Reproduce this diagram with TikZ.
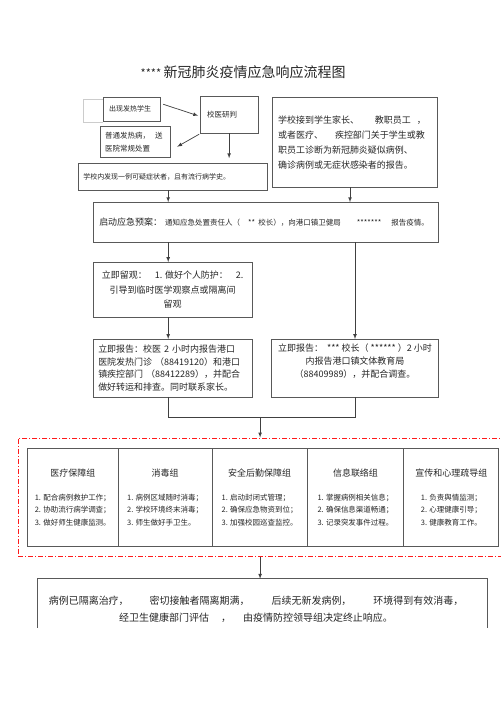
\documentclass[tikz,border=0pt]{standalone}
\usepackage{fontspec}
\setmainfont{Noto Sans CJK SC}
\usepackage{tikz}
\usetikzlibrary{positioning}
\usetikzlibrary{arrows}
\usetikzlibrary{calc}
\newcommand{\fsz}[2]{\fontsize{#1}{#2}\selectfont}
\tikzset{
  box/.style={draw=black!65, line width=0.9pt, inner sep=0pt, outer sep=0pt, text=black!85},
  grp/.style={draw=black!65, line width=1pt, inner sep=0pt, outer sep=0pt, minimum height=98},
  txt/.style={inner sep=0pt, outer sep=0pt, text=black!85},
  redframe/.style={draw=red!90, line width=0.8pt, dash pattern=on 5pt off 2pt on 1pt off 2pt, inner sep=0pt}
}

\begin{document}
\begin{tikzpicture}[x=1pt,y=-1pt,>=latex,line width=0.7pt,every path/.style={draw=black!75}]
	\useasboundingbox (0,0) rectangle (500,707);
	\fill[white] (0,0) rectangle (500,707);
	% title
	\node[txt] (title) at (243,72) {\fsz{11}{14}****\ \fsz{14}{16}新冠肺炎疫情应急响应流程图};
	% top part
	\draw[black!20,thin] (103,99) -| (83,122) -- (103,122);
	\node[box, minimum width=57, minimum height=24, text width=45, align=left, font=\fsz{7}{9}] (fever) at (131.5,109) {出现发热学生};
	\node[box, minimum width=58, minimum height=37, text width=44, align=left, font=\fsz{7.5}{9}] (judge) at (229,114.5) {校医研判};
	\node[box, minimum width=70, minimum height=31, text width=60, align=left, font=\fsz{7.5}{13}] (normal) at (135,141.5) {普通发热病，\hspace{5pt}送\\医院常规处置};
	\node[box, minimum width=189, minimum height=27, text width=179, align=left, font=\fsz{7}{9}] (suspect) at (172.5,176.5) {学校内发现一例可疑症状者，且有流行病学史。};
	\node[box, minimum width=166, minimum height=90, text width=154, align=left, font=\fsz{9}{15}] (report) at (355,142)
		{学校接到学生家长、\hspace{16pt}教职员工\hspace{6pt}，\\或者医疗、\hspace{12pt}疾控部门关于学生或教\\职员工诊断为新冠肺炎疑似病例、\\确诊病例或无症状感染者的报告。};
	% start
	\node[box, minimum width=346, minimum height=40, text width=334, align=left] (start) at (266,222)
		{{\fsz{9}{11}启动应急预案：}\hspace{3pt}{\fsz{7.5}{9}通知应急处置责任人（\hspace{8pt}** 校长），向港口镇卫健局\hspace{16pt}*******\hspace{10pt}报告疫情。}};
	\node[box, minimum width=159, minimum height=55, align=center, font=\fsz{9}{15}] (observe) at (172.5,289.5)
		{立即留观：\hspace{8pt}1. 做好个人防护：\hspace{8pt}2.\\引导到临时医学观察点或隔离间\hspace{10pt}\\留观};
	\node[box, minimum width=159, minimum height=58, text width=149, align=left, font=\fsz{9}{12.5}] (rep1) at (172.5,368)
		{立即报告：校医 2 小时内报告港口\\医院发热门诊 （88419120）和港口\\镇疾控部门 （88412289），并配合\\做好转运和排查。同时联系家长。};
	\node[box, minimum width=168, minimum height=58] (rep2) at (355,368) {};
	\node[txt, align=center, font=\fsz{9}{13}] (rep2t) at (355,361)
		{立即报告：\hspace{4pt}*** 校长（ ****** ）2 小时\\内报告港口镇文体教育局\\（88409989），并配合调查。};
	% groups
	\node[redframe, minimum width=485, minimum height=119] (frame) at (260.5,497.5) {};
	\foreach \l/\r/\ttl/\ia/\ib/\ic [count=\i] in {
		27/118/医疗保障组/配合病例救护工作；/协助流行病学调查；/做好师生健康监测。,
		118/212/消毒组/病例区域随时消毒；/学校环境终末消毒；/师生做好手卫生。,
		212/307/安全后勤保障组/启动封闭式管理；/确保应急物资到位；/加强校园巡查监控。,
		307/404/信息联络组/掌握病例相关信息；/确保信息渠道畅通；/记录突发事件过程。,
		404/499/宣传和心理疏导组/负责舆情监测；/心理健康引导；/健康教育工作。}
	{
		\node[grp, minimum width={\r-\l}] (g\i) at ({(\l+\r)/2},498) {};
		\node[txt, font=\fsz{9}{11}] (gt\i) at ({(\l+\r)/2},473) {\ttl};
		\node[txt, align=left, font=\fsz{7.5}{12.5}] (gi\i) at ({(\l+\r)/2},510) {1. \ia\\2. \ib\\3. \ic};
	}
	% end box (open at the bottom)
	\coordinate (endtop) at (260,579);
	\draw[black!65, line width=0.9pt] (37,628) |- (488,579) -- (488,628);
	\node[txt, align=center, font=\fsz{10}{17}] (stop) at (256,610)
		{病例已隔离治疗，\hspace{21pt}密切接触者隔离期满，\hspace{22pt}后续无新发病例，\hspace{22pt}环境得到有效消毒，\\经卫生健康部门评估\hspace{12pt}，\hspace{12pt}由疫情防控领导组决定终止响应。};
	% connectors
	\coordinate (join) at (260,417);
	\draw[->] ([shift={(3,-5)}]fever.east) -- ([shift={(-2,1)}]judge.west);
	\draw[->] ([shift={(-1,1)}]judge.south west) -- ([shift={(7,5)}]normal.east);
	\draw[->,shorten >=5pt] (judge.south) -- (judge.south |- suspect.north);
	\draw[->] ([xshift=-4.5pt]suspect.south) -- ([xshift=-4.5pt]suspect.south |- start.north);
	\draw[->] ([xshift=-5pt]report.south) -- ([xshift=-5pt]report.south |- start.north);
	\draw[->] ([xshift=-4.5pt]observe.north |- start.south) -- ([xshift=-4.5pt]observe.north);
	\draw[->] (rep2.north |- start.south) -- (rep2.north);
	\draw[->] ([xshift=-4.5pt]observe.south) -- ([xshift=-4.5pt]rep1.north);
	\draw ([xshift=-4.5pt]rep1.south) |- (join) -| (rep2.south);
	\draw[->] (join) -- (join |- frame.north);
	\draw[->] (endtop |- frame.south) -- (endtop);
\end{tikzpicture}
\end{document}
